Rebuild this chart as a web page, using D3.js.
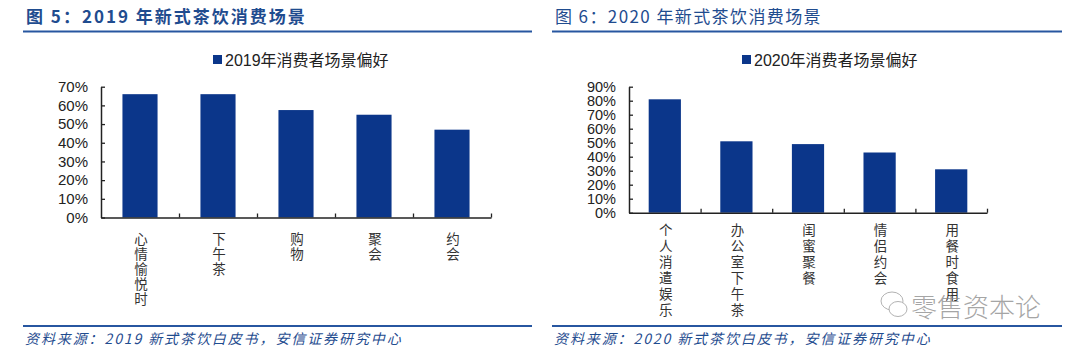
<!DOCTYPE html>
<head>
  <meta charset="utf-8">
  <script src="https://d3js.org/d3.v7.min.js"></script>
  <style>
    body { margin: 0; background: #fff; }
    svg { width: 1080px; height: 354px; display: block; }
    text { font-family: "Liberation Sans", Arial, "Noto Sans CJK SC", sans-serif; }
    .cjk { font-family: "Noto Sans CJK SC", sans-serif; }
  </style>
</head>

<body>
  <svg></svg>
  <script>
    // data
    var cats2019 = ['心情愉悦时', '下午茶', '购物', '聚会', '约会'];
    var vals2019 = [0.66, 0.66, 0.575, 0.55, 0.47];
    var ticks2019 = [0, 0.1, 0.2, 0.3, 0.4, 0.5, 0.6, 0.7];

    var cats2020 = ['个人消遣娱乐', '办公室下午茶', '闺蜜聚餐', '情侣约会', '用餐时食用'];
    var vals2020 = [0.81, 0.51, 0.49, 0.43, 0.31];
    var ticks2020 = [0, 0.1, 0.2, 0.3, 0.4, 0.5, 0.6, 0.7, 0.8, 0.9];

    var barColor = '#0b368a';
    var titleColor = '#1f4c8f';
    var lineColor = '#2756a0';

    var svg = d3.select('svg');

    var panels = [
      {
        title: '图 5：2019 年新式茶饮消费场景', bold: true, spacing: 2,
        legend: '2019年消费者场景偏好',
        source: '资料来源：2019 新式茶饮白皮书，安信证券研究中心',
        cats: cats2019, vals: vals2019, ticks: ticks2019, tickFont: 15,
        left: 23, right: 532, tx: 26, x0: 101, x1: 491, y0: 217.5, y1: 86.7,
        legendX: 213, labTop: 232, labStep: 15
      },
      {
        title: '图 6：2020 年新式茶饮消费场景', bold: false, spacing: 1.4,
        legend: '2020年消费者场景偏好',
        source: '资料来源：2020 新式茶饮白皮书，安信证券研究中心',
        cats: cats2020, vals: vals2020, ticks: ticks2020, tickFont: 14.5,
        left: 552, right: 1062, tx: 555, x0: 629, x1: 987, y0: 212.7, y1: 86.7,
        legendX: 742, labTop: 223, labStep: 16
      }
    ];

    panels.forEach(function(p) {
      var g = svg.append('g');

      // heading + rules
      g.append('text')
        .attr('class', 'cjk')
        .attr('x', p.tx).attr('y', 23)
        .attr('fill', titleColor)
        .attr('font-size', 17)
        .attr('font-weight', p.bold ? 'bold' : 'normal')
        .attr('letter-spacing', p.spacing)
        .text(p.title);
      g.append('line')
        .attr('x1', p.left).attr('x2', p.right)
        .attr('y1', 31.5).attr('y2', 31.5)
        .attr('stroke', lineColor).attr('stroke-width', 2);
      g.append('line')
        .attr('x1', p.left).attr('x2', p.right)
        .attr('y1', 326).attr('y2', 326)
        .attr('stroke', lineColor).attr('stroke-width', 2);
      g.append('text')
        .attr('class', 'cjk')
        .attr('x', p.tx - 1).attr('y', 344)
        .attr('fill', titleColor)
        .attr('font-size', 14)
        .attr('letter-spacing', 1.9)
        .attr('font-style', 'italic')
        .text(p.source);

      // legend
      g.append('rect')
        .attr('x', p.legendX).attr('y', 55)
        .attr('width', 9).attr('height', 9)
        .attr('fill', barColor);
      g.append('text')
        .attr('x', p.legendX + 12).attr('y', 65.5)
        .attr('font-size', 16)
        .attr('fill', '#222')
        .text(p.legend);

      var x = d3.scaleBand()
        .domain(p.cats)
        .range([p.x0, p.x1])
        .paddingInner(0.55)
        .paddingOuter(0.275);
      var y = d3.scaleLinear()
        .domain([0, d3.max(p.ticks)])
        .range([p.y0, p.y1]);

      g.selectAll('rect.bar')
        .data(p.vals).enter().append('rect')
        .attr('class', 'bar')
        .attr('x', function(d, i) { return x(p.cats[i]); })
        .attr('width', x.bandwidth())
        .attr('y', function(d) { return y(d); })
        .attr('height', function(d) { return p.y0 - y(d); })
        .attr('fill', barColor);

      // y axis, ticks pointing in
      var yAxis = g.append('g')
        .attr('transform', 'translate(' + p.x0 + ',0)')
        .call(d3.axisLeft(y)
          .tickValues(p.ticks)
          .tickFormat(d3.format('.0%'))
          .tickSize(-4)
          .tickSizeOuter(0)
          .tickPadding(13));
      yAxis.selectAll('text').attr('font-size', p.tickFont).attr('fill', '#222')
        .style('font-family', '"Liberation Sans", Arial, sans-serif');

      // x axis: ticks on band edges
      var edge = d3.scaleLinear().domain([0, p.cats.length]).range([p.x0, p.x1]);
      var xAxis = g.append('g')
        .attr('transform', 'translate(0,' + p.y0 + ')')
        .call(d3.axisBottom(edge)
          .tickValues(d3.range(1, p.cats.length + 1))
          .tickFormat('')
          .tickSize(-4)
          .tickSizeOuter(0));

      [yAxis, xAxis].forEach(function(a) {
        a.select('.domain').attr('stroke', '#222').attr('stroke-width', 1.5);
        a.selectAll('.tick line').attr('stroke', '#222').attr('stroke-width', 1.3);
      });

      // vertical category labels, one char per line
      g.selectAll('text.cat')
        .data(p.cats).enter().append('text')
        .attr('class', 'cat cjk')
        .attr('text-anchor', 'middle')
        .attr('font-size', 13.5)
        .attr('fill', '#333')
        .each(function(d) {
          var t = d3.select(this);
          var cx = x(d) + x.bandwidth() / 2 + 1;
          d.split('').forEach(function(ch, k) {
            t.append('tspan')
              .attr('x', cx)
              .attr('y', p.labTop + 12 + k * p.labStep)
              .text(ch);
          });
        });
    });

    // watermark
    var wm = svg.append('g').attr('opacity', 0.75);
    wm.append('ellipse').attr('cx', 892).attr('cy', 301).attr('rx', 11).attr('ry', 9)
      .attr('fill', 'none').attr('stroke', '#999').attr('stroke-width', 1);
    wm.append('ellipse').attr('cx', 898).attr('cy', 309).attr('rx', 9).attr('ry', 7.5)
      .attr('fill', '#fff').attr('stroke', '#999').attr('stroke-width', 1);
    wm.append('text')
      .attr('class', 'cjk')
      .attr('x', 911).attr('y', 317)
      .attr('font-size', 26)
      .attr('font-weight', 300)
      .attr('fill', '#888')
      .text('零售资本论');
  </script>
</body>
